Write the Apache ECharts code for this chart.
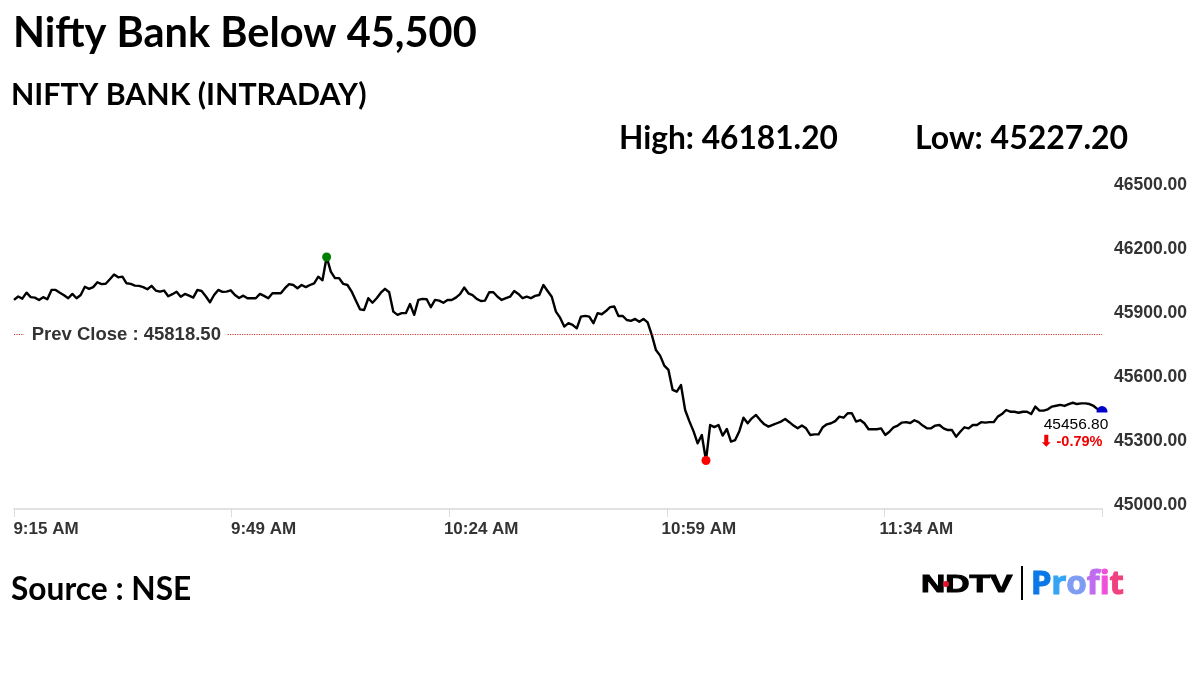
<!DOCTYPE html>
<html>
<head>
<meta charset="utf-8">
<script src="https://cdn.jsdelivr.net/npm/echarts@6/dist/echarts.min.js"></script>
<style>
html, body { margin: 0; padding: 0; background: #fff; }
#chart { width: 1200px; height: 675px; }
</style>
</head>
<body>
<div id="chart"></div>
<script>
// one reading every 40 seconds from 9:15 AM
var stepMinutes = 40 / 60;
var sessionMinutes = 174;
var tickLabels = ['9:15 AM', '9:49 AM', '10:24 AM', '10:59 AM', '11:34 AM', ''];
var priceTicks = [45000, 45300, 45600, 45900, 46200, 46500];
var prevClose = 45818.5;
var highIndex = 75;
var lowIndex = 166;
var prices = [
    45980, 45996, 45986, 46014, 45993, 45991, 45980, 45993, 45983, 46027, 46027, 46014, 46002, 45988, 46008, 45988,
    46003, 46042, 46032, 46040, 46063, 46054, 46056, 46077, 46099, 46086, 46089, 46058, 46055, 46047, 46046, 46040, 46030,
    46046, 46024, 46019, 46024, 45997, 46007, 46018, 45995, 46008, 46000, 45991, 46027, 46022, 45997, 45969, 46003, 46027,
    46018, 46019, 46025, 46003, 45989, 46000, 45988, 45988, 45988, 46008, 45999, 45988, 46011, 46011, 46011, 46035, 46054,
    46050, 46035, 46050, 46040, 46050, 46058, 46089, 46072, 46181.2, 46113, 46082, 46082, 46055, 46050, 46019, 45977, 45936,
    45933, 45988, 45967, 45988, 46014, 46032, 46016, 45925, 45910, 45918, 45918, 45961, 45910, 45980, 45985, 45983,
    45946, 45980, 45977, 45967, 45980, 45980, 45991, 46007, 46038, 46011, 46003, 45985, 45975, 45977, 46016, 46016, 45995,
    45980, 45988, 45995, 46022, 46008, 45988, 45995, 45988, 45999, 46003, 46050, 46022, 45995, 45925, 45897, 45855, 45871,
    45863, 45847, 45902, 45905, 45902, 45871, 45918, 45913, 45928, 45946, 45949, 45905, 45905, 45886, 45882, 45891, 45878,
    45891, 45875, 45816, 45745, 45719, 45672, 45652, 45558, 45550, 45581, 45464, 45412, 45365, 45308, 45347, 45227.2,
    45394, 45384, 45394, 45344, 45375, 45316, 45323, 45365, 45428, 45402, 45425, 45441, 45417, 45397, 45386, 45394,
    45402, 45410, 45422, 45407, 45391, 45378, 45391, 45378, 45347, 45350, 45350, 45383, 45397, 45402, 45412, 45433,
    45428, 45449, 45449, 45410, 45417, 45402, 45374, 45374, 45374, 45378, 45347, 45362, 45383, 45391, 45405, 45407,
    45403, 45416, 45407, 45391, 45378, 45378, 45391, 45394, 45378, 45370, 45370, 45339, 45362, 45383, 45378,
    45394, 45394, 45407, 45405, 45407, 45407, 45433, 45445, 45464, 45456, 45456, 45451, 45456, 45456, 45445, 45480,
    45461, 45461, 45467, 45480, 45484, 45488, 45483, 45492, 45498, 45492, 45495, 45495, 45492, 45483, 45467, 45456.8
];

var seriesData = prices.map(function (p, i) {
    return [i * stepMinutes, p];
});
var lastIndex = prices.length - 1;

function headText(text, x, y, size) {
    return {
        type: 'text',
        x: x,
        y: y,
        style: {
            text: text,
            fill: '#000',
            font: 'bold ' + size + 'px Lato',
            textVerticalAlign: 'middle'
        }
    };
}

// logo word, one colour per letter
function profitLetter(color) {
    return { fill: color, fontSize: 33, fontWeight: 'bold', fontFamily: 'Noto Sans', stroke: color, lineWidth: 1 };
}
var profitRich = {
    a: profitLetter('#0a78e6'),
    b: profitLetter('#35a4f5'),
    c: profitLetter('#7f9cf5'),
    d: profitLetter('#c06cf0'),
    e: profitLetter('#f050d8'),
    f: profitLetter('#f0407f')
};

var chart = echarts.init(document.getElementById('chart'));
chart.setOption({
    animation: false,
    backgroundColor: '#fff',
    grid: { left: 14, right: 98, top: 189, bottom: 166 },
    xAxis: {
        type: 'value',
        min: 0,
        max: sessionMinutes,
        interval: sessionMinutes / 5,
        splitLine: { show: false },
        axisLine: { lineStyle: { color: '#e2e2e2', width: 2 } },
        axisTick: { show: true, length: 8, lineStyle: { color: '#dcdcdc' } },
        axisLabel: {
            color: '#333',
            fontFamily: 'Liberation Sans',
            fontWeight: 'bold',
            fontSize: 17,
            margin: 12,
            padding: [0, 0, 0, 64],
            showMinLabel: true,
            showMaxLabel: true,
            formatter: function (v) {
                return tickLabels[Math.round(v / (sessionMinutes / 5))];
            }
        }
    },
    yAxis: {
        type: 'value',
        position: 'right',
        min: priceTicks[0],
        max: priceTicks[priceTicks.length - 1],
        interval: 300,
        splitLine: { show: false },
        axisLine: { show: false },
        axisTick: { show: false },
        axisLabel: {
            color: '#333',
            fontFamily: 'Liberation Sans',
            fontWeight: 'bold',
            fontSize: 17.5,
            margin: 12,
            verticalAlign: 'bottom',
            lineHeight: 8,
            formatter: function (v) {
                return v.toFixed(2);
            }
        }
    },
    series: [{
        type: 'line',
        data: seriesData,
        showSymbol: false,
        clip: false,
        lineStyle: { color: '#000', width: 2.4, join: 'round' },
        markLine: {
            silent: true,
            symbol: 'none',
            label: { show: false },
            lineStyle: { color: '#c0392b', type: 'dotted', width: 1.2 },
            data: [{ yAxis: prevClose }]
        },
        markPoint: {
            silent: true,
            data: [
                {
                    coord: seriesData[highIndex],
                    symbol: 'circle',
                    symbolSize: 9,
                    itemStyle: { color: '#008000' },
                    label: { show: false }
                },
                {
                    coord: seriesData[lowIndex],
                    symbol: 'circle',
                    symbolSize: 9,
                    itemStyle: { color: '#ff0000' },
                    label: { show: false }
                },
                {
                    coord: seriesData[lastIndex],
                    symbol: 'circle',
                    symbolSize: 11,
                    itemStyle: { color: '#0000cc' },
                    label: { show: false }
                },
                {
                    coord: seriesData[lastIndex],
                    symbolSize: 0,
                    label: {
                        show: true,
                        position: 'inside',
                        offset: [-26, 13],
                        formatter: prices[lastIndex].toFixed(2),
                        color: '#000',
                        fontFamily: 'Liberation Sans',
                        fontSize: 15.5,
                        backgroundColor: '#fff',
                        padding: [3, 4, 5, 4]
                    }
                },
                {
                    coord: seriesData[lastIndex],
                    symbolSize: 0,
                    label: {
                        show: true,
                        position: 'inside',
                        offset: [-31, 30],
                        formatter: '⬇ -0.79%',
                        color: '#f00000',
                        fontFamily: 'Liberation Sans',
                        fontWeight: 'bold',
                        fontSize: 14.5
                    }
                },
                {
                    coord: [17.8, prevClose],
                    symbolSize: 0,
                    label: {
                        show: true,
                        position: 'inside',
                        offset: [0, 1],
                        formatter: 'Prev Close : 45818.50',
                        color: '#333',
                        fontFamily: 'Liberation Sans',
                        fontWeight: 'bold',
                        fontSize: 18.5,
                        backgroundColor: '#fff',
                        padding: [2, 6, 2, 8]
                    }
                }
            ]
        }
    }],
    graphic: [
        headText('Nifty Bank Below 45,500', 13, 34, 41.5),
        headText('NIFTY BANK (INTRADAY)', 11, 95, 30.3),
        headText('High: 46181.20', 619, 139, 31.7),
        headText('Low: 45227.20', 915, 139, 32),
        headText('Source : NSE', 11, 590, 31.7),
        // NDTV Profit logo
        {
            type: 'text',
            x: 921,
            y: 585,
            scaleX: 1.4,
            style: {
                text: 'NDTV',
                fill: '#000',
                stroke: '#000',
                lineWidth: 1,
                font: 'bold 24px "Liberation Sans"',
                textVerticalAlign: 'middle'
            }
        },
        { type: 'circle', shape: { cx: 946, cy: 584, r: 3 }, style: { fill: '#e8112d' } },
        { type: 'rect', shape: { x: 1021, y: 566, width: 2, height: 34 }, style: { fill: '#000' } },
        {
            type: 'text',
            x: 1031,
            y: 585,
            style: {
                text: '{a|P}{b|r}{c|o}{d|f}{e|i}{f|t}',
                rich: profitRich,
                textVerticalAlign: 'middle'
            }
        }
    ]
});
</script>
</body>
</html>
